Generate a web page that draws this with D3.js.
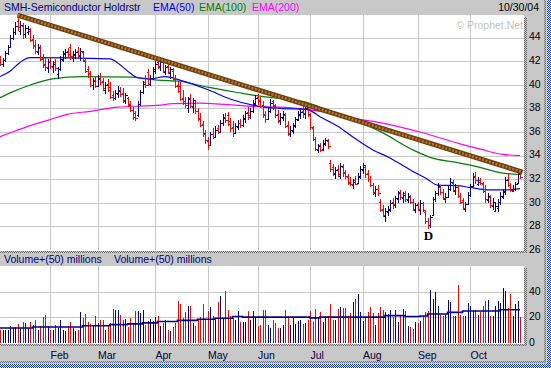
<!DOCTYPE html>
<html>
<head>
<meta charset="utf-8">
<script src="https://cdn.jsdelivr.net/npm/d3@7"></script>
<style>
body { margin: 0; background: #c8c8c8; }
svg { display: block; font-family: "Liberation Sans", Arial, sans-serif; }
</style>
</head>
<body>
<script>
// SMH daily bars, 2 Jan 2004 .. 29 Oct 2004 (one entry per trading day)
const high = [
42.4,42.3,42.9,43.4,44.2,44.8,45.3,45.9,45.4,45.2,
45.1,45.0,44.8,44.2,43.8,43.5,43.4,42.6,42.3,42.2,
42.3,42.0,42.2,41.5,42.4,42.9,43.0,43.1,43.5,42.9,
43.0,43.2,43.1,42.9,42.3,41.6,41.2,40.6,40.7,40.8,
41.0,40.6,40.2,40.5,40.2,39.5,39.6,39.9,39.8,39.7,
39.3,39.0,38.6,38.1,37.8,38.6,39.6,40.3,40.8,41.3,
40.8,41.5,42.0,42.3,42.1,42.2,41.7,41.9,41.5,41.4,
40.8,40.3,40.2,39.6,39.0,39.0,39.2,38.9,38.6,38.0,
37.6,36.9,36.2,35.6,36.0,36.3,36.5,36.6,37.0,37.5,
37.6,37.7,37.2,36.9,36.8,37.0,37.1,37.4,37.8,38.1,
38.0,38.7,39.1,39.2,39.0,38.6,37.8,38.0,38.8,38.7,
38.4,37.9,37.6,37.8,37.6,36.9,36.5,36.8,37.3,37.8,
38.0,38.2,38.3,38.4,37.6,36.5,35.6,35.0,35.1,35.3,
35.5,35.4,33.6,33.3,33.0,33.2,33.4,33.3,32.8,32.4,
32.2,32.0,32.3,32.5,33.1,33.4,33.2,32.8,32.3,31.7,
31.4,31.5,30.3,29.8,29.6,29.7,30.2,30.4,30.6,31.0,
31.1,30.9,31.0,30.8,30.7,30.3,30.0,30.1,30.2,30.1,
29.3,28.7,29.0,30.5,31.0,31.7,31.5,31.2,30.8,31.4,
32.1,31.9,31.6,31.5,30.8,30.4,30.1,30.9,31.6,32.5,
32.6,32.2,32.1,31.8,31.5,30.8,30.7,30.4,30.0,30.3,
30.9,31.2,32.2,32.4,31.7,31.5,31.8,32.8,32.8]
const low = [
41.6,41.5,41.9,42.5,43.1,43.8,44.2,44.6,44.2,43.9,
44.0,44.2,43.6,43.0,42.6,42.5,42.0,41.4,41.2,41.0,
41.3,41.0,41.2,40.5,41.2,41.9,42.2,42.3,42.1,41.9,
42.2,42.3,42.0,41.9,41.0,40.6,39.8,39.6,39.7,39.8,
40.0,39.5,39.2,39.4,38.8,38.6,38.7,38.9,39.0,38.5,
38.4,38.1,37.7,37.0,36.9,37.3,38.2,39.2,39.7,39.9,
39.9,40.4,40.9,41.3,41.2,41.0,40.8,40.9,40.5,40.3,
39.7,39.3,38.6,38.3,38.0,37.6,38.0,37.6,37.5,36.9,
36.4,35.6,35.0,34.5,34.8,35.4,35.5,35.8,35.9,36.5,
36.8,36.5,36.0,35.6,35.8,36.2,36.3,36.4,36.8,37.0,
37.1,37.6,38.2,38.3,38.0,37.2,36.8,37.0,37.6,37.9,
37.2,36.8,36.6,36.9,36.3,35.7,35.6,35.8,36.3,36.9,
37.1,37.2,37.1,37.3,36.2,35.2,34.4,34.2,34.3,34.4,
34.8,34.6,32.6,32.3,32.0,32.2,32.0,32.2,32.0,31.5,
31.4,31.2,31.5,31.6,32.0,32.4,32.1,31.8,31.3,30.7,
30.5,30.6,29.2,28.8,28.4,28.9,29.2,29.5,29.6,30.0,
30.2,30.0,30.1,30.0,29.9,29.3,29.1,29.3,29.0,29.2,
28.2,27.8,27.9,28.9,30.1,30.6,30.7,30.2,30.0,30.4,
31.0,30.9,30.7,30.4,29.9,29.4,29.2,29.8,30.5,31.3,
31.6,31.4,31.5,30.8,30.0,30.0,29.6,29.4,29.2,29.2,
29.8,30.3,30.7,31.3,30.9,30.9,31.0,31.6,32.0]
const open = [
42.2,41.8,42.1,42.7,43.2,44.0,44.5,45.4,44.6,45.0,
44.3,44.5,44.6,43.9,43.4,42.8,43.1,42.3,41.8,41.4,
42.0,41.5,41.9,40.9,41.3,42.1,42.6,42.9,43.2,42.3,
42.5,42.9,42.4,42.8,42.0,41.3,41.0,40.0,40.4,39.9,
40.6,40.3,39.6,40.1,39.8,39.1,38.9,39.2,39.6,39.3,
38.6,38.9,38.4,37.9,37.6,37.4,38.4,39.4,40.2,41.1,
40.1,40.6,41.2,41.9,41.5,42.0,41.1,41.6,41.0,41.2,
40.6,40.0,39.9,38.9,38.5,38.0,38.9,38.1,38.5,37.8,
37.2,36.7,35.9,35.2,34.9,35.8,35.6,36.3,36.0,36.8,
37.3,37.4,36.9,36.4,35.9,36.4,36.8,36.6,37.1,37.7,
37.3,37.8,38.4,39.0,38.6,38.3,37.5,37.1,37.8,38.6,
38.2,37.5,36.9,37.2,37.4,36.6,35.8,36.1,36.5,37.0,
37.4,37.8,37.5,38.1,37.4,36.3,35.4,34.5,34.9,34.6,
35.0,35.2,33.4,33.0,32.4,32.9,32.3,33.0,32.5,32.2,
31.8,31.5,31.9,31.7,32.2,32.8,33.0,32.5,32.0,31.5,
30.8,31.2,30.1,29.5,28.9,29.2,29.4,30.1,29.8,30.3,
30.9,30.4,30.8,30.2,30.5,30.1,29.4,29.9,29.4,30.0,
29.2,28.5,28.1,29.0,30.3,30.8,31.3,30.9,30.3,30.5,
31.2,31.7,31.0,31.3,30.6,30.2,29.5,29.9,30.7,31.4,
32.3,31.6,31.9,31.6,31.2,30.2,30.5,29.7,29.3,29.6,
30.1,30.5,30.9,32.0,31.5,31.0,31.2,31.7,32.6]
const close = [
41.8,42.1,42.7,43.2,44.0,44.5,45.0,44.9,45.1,44.3,
44.8,44.7,43.8,43.3,42.9,43.2,42.2,41.7,41.5,41.9,
41.6,41.8,41.4,41.3,42.2,42.7,42.8,42.6,42.4,42.6,
42.8,42.5,42.9,42.1,41.2,40.9,40.0,40.3,39.9,40.5,
40.2,39.7,40.0,39.6,39.0,38.9,39.3,39.5,39.2,38.7,
39.1,38.3,37.9,37.3,37.2,38.4,39.4,40.1,40.0,40.1,
40.6,41.3,41.8,41.6,41.9,41.2,41.5,41.1,41.3,40.5,
39.9,39.5,38.8,38.6,38.3,38.8,38.2,38.7,37.8,37.1,
36.6,35.8,35.3,34.9,35.8,35.6,36.2,36.0,36.8,37.2,
37.0,36.7,36.3,35.9,36.5,36.8,36.6,37.2,37.6,37.4,
37.8,38.5,38.9,38.7,38.2,37.4,37.1,37.8,38.5,38.3,
37.4,37.0,37.3,37.5,36.5,35.9,36.2,36.6,37.1,37.5,
37.7,37.6,38.0,37.5,36.4,35.4,34.6,34.8,34.5,35.1,
35.3,34.8,32.9,32.5,32.8,32.4,33.1,32.6,32.3,31.7,
31.6,31.8,31.6,32.3,32.9,33.2,32.4,32.0,31.5,30.9,
31.2,30.8,29.4,29.0,29.3,29.5,30.0,29.9,30.4,30.8,
30.5,30.7,30.3,30.6,30.1,29.5,29.8,29.5,30.0,29.4,
28.5,28.1,28.8,30.3,30.8,31.4,30.9,30.4,30.5,31.2,
31.8,31.1,31.3,30.6,30.1,29.6,29.9,30.7,31.4,32.2,
31.9,31.8,31.7,31.0,30.3,30.6,29.8,30.1,29.7,30.1,
30.6,31.0,31.9,31.5,31.1,31.2,31.6,32.5,32.2]
// volume, millions
const volume = [
10.4,10.4,10.4,10.4,13.5,11.7,12.5,15.1,11.4,16.6,
15.6,11.4,16.6,14.0,17.6,10.4,13.5,20.2,22.0,13.0,
10.4,9.9,14.3,12.0,17.6,9.9,9.1,13.0,16.6,11.4,
9.1,10.4,24.3,19.7,22.8,16.6,15.1,14.3,20.7,15.6,
17.9,18.2,10.4,13.0,15.6,26.4,25.4,25.4,21.6,18.2,
18.7,12.5,19.7,15.6,25.1,24.8,23.3,25.4,14.3,16.8,
18.7,16.8,20.2,21.3,13.5,15.6,18.2,10.4,9.6,12.5,
15.6,32.4,30.6,19.5,24.3,28.5,28.5,15.6,13.0,17.6,
20.2,30.6,18.7,24.6,28.0,21.3,18.2,31.6,36.3,19.5,
40.7,25.4,20.7,19.5,17.6,24.6,16.1,16.1,16.1,25.1,
18.2,24.6,20.2,13.0,14.3,25.9,25.9,14.3,11.4,18.2,
15.6,11.7,11.7,14.3,25.9,21.3,14.3,20.2,15.1,16.8,
17.6,15.1,15.6,18.2,25.1,16.1,26.7,20.2,23.8,16.1,
21.3,20.7,30.6,17.6,17.6,26.4,28.0,26.9,27.2,20.7,
23.3,31.6,34.0,38.4,23.8,16.8,20.2,23.8,27.7,23.3,
14.3,23.3,27.7,25.9,23.8,22.8,25.9,20.2,25.9,16.6,
22.0,26.4,24.6,13.0,12.2,11.2,16.1,15.6,16.8,21.3,
24.3,25.1,41.0,34.5,39.4,29.0,22.0,21.3,22.0,33.7,
31.6,21.3,21.3,45.4,21.8,21.3,21.3,31.1,29.0,24.6,
25.4,22.0,23.8,29.0,32.4,33.2,20.7,21.3,28.5,32.4,
31.1,42.8,40.7,27.2,38.4,21.3,30.6,32.4,20.2]

// moving averages at a few bar indices
const ema50Idx = [0,4,8,12,44,48,52,55,60,66,72,83,92,103,112,123,128,135,141,149,156,164,171,175,183,188,196,203,208]
const ema50Val = [40.7,41.15,41.9,42.3,42.2,41.7,41.0,40.6,40.5,40.7,40.4,39.6,38.8,38.2,38.0,37.9,37.3,36.5,35.6,34.5,33.8,32.8,32.0,31.5,31.45,31.3,31.1,31.1,31.2]
const ema100Idx = [0,5,11,21,33,53,63,72,83,95,107,116,123,128,136,144,152,165,172,183,192,200,208]
const ema100Val = [38.9,39.4,39.9,40.5,40.7,40.65,40.4,40.3,39.8,39.35,38.95,38.75,38.5,38.1,37.5,36.8,36.05,34.5,33.85,33.4,33.0,32.55,32.4]
const ema200Idx = [0,5,13,20,27,36,47,56,63,69,80,99,112,123,131,139,152,168,184,193,201,208]
const ema200Val = [35.6,36.0,36.6,37.05,37.5,37.75,38.1,38.2,38.25,38.4,38.45,38.2,38.1,37.9,37.65,37.25,36.8,36.0,35.0,34.5,34.1,34.0]
const volMaIdx = [0,13,33,44,51,57,63,71,79,86,93,97,124,128,154,162,168,171,179,185,200,208]
const volMaVal = [11.7,12.5,13.4,14.3,14.9,15.7,16.8,17.6,18.5,19.3,20.7,20.2,19.6,20.2,21.3,20.7,21.0,22.6,23.9,24.9,25.9,25.9]

// trend line drawn from the January high
const trendIdx = [7, 209]
const trendVal = [45.9, 32.6]

const monthIdx = [20, 39, 62, 83, 103, 124, 145, 167, 188]
const monthLabels = ["Feb","Mar","Apr","May","Jun","Jul","Aug","Sep","Oct"]
const priceTicks = [26,28,30,32,34,36,38,40,42,44]
const volTicks = [0,20,40]

let width = 551
let height = 368

let svg = d3.select("body").append("svg")
    .attr("width", width)
    .attr("height", height)

let defs = svg.append("defs")
let dots = defs.append("pattern").attr("id","dots")
    .attr("width",2).attr("height",2).attr("patternUnits","userSpaceOnUse")
dots.append("rect").attr("x",0).attr("y",0).attr("width",1).attr("height",1).attr("fill","#6e6e6e")
dots.append("rect").attr("x",1).attr("y",1).attr("width",1).attr("height",1).attr("fill","#6e6e6e")
let blue = defs.append("pattern").attr("id","bluedots")
    .attr("width",2).attr("height",2).attr("patternUnits","userSpaceOnUse")
blue.append("rect").attr("width",2).attr("height",2).attr("fill","#ffffff")
blue.append("rect").attr("x",0).attr("y",0).attr("width",1).attr("height",1).attr("fill","#1030e0")
blue.append("rect").attr("x",1).attr("y",1).attr("width",1).attr("height",1).attr("fill","#1030e0")

svg.append("rect").attr("width", width).attr("height", height).attr("fill", "#c8c8c8")

let plot = {left: 0, right: 524, top: 15, bottom: 250}
let vplot = {top: 266, bottom: 343}

let x = d3.scaleLinear().domain([0, 209.6]).range([plot.left, plot.right])
let y = d3.scaleLinear().domain([26, 46]).range([plot.bottom, 14])
let yv = d3.scaleLinear().domain([0, 60]).range([vplot.bottom, vplot.top])
let px = i => Math.round(x(i)) + 0.5

// panels
svg.append("rect").attr("x", plot.left).attr("y", plot.top)
    .attr("width", plot.right - plot.left).attr("height", plot.bottom - plot.top + 1)
    .attr("fill", "#fff")
svg.append("rect").attr("x", plot.left).attr("y", vplot.top)
    .attr("width", plot.right - plot.left).attr("height", vplot.bottom - vplot.top + 1)
    .attr("fill", "#fff")

// panel shadows (dotted)
svg.append("rect").attr("x", 524).attr("y", 17).attr("width", 3).attr("height", 236).attr("fill", "url(#dots)")
svg.append("rect").attr("x", 0).attr("y", 251).attr("width", 527).attr("height", 2).attr("fill", "url(#dots)")
svg.append("rect").attr("x", 524).attr("y", 268).attr("width", 3).attr("height", 78).attr("fill", "url(#dots)")
svg.append("rect").attr("x", 0).attr("y", 344).attr("width", 527).attr("height", 2).attr("fill", "url(#dots)")
svg.append("rect").attr("x", 544).attr("y", 0).attr("width", 2).attr("height", 363).attr("fill", "url(#dots)")
svg.append("rect").attr("x", 0).attr("y", 361).attr("width", 546).attr("height", 2).attr("fill", "url(#dots)")
svg.append("rect").attr("x", 547).attr("y", 0).attr("width", 4).attr("height", 368).attr("fill", "url(#bluedots)")
svg.append("rect").attr("x", 0).attr("y", 364).attr("width", 551).attr("height", 4).attr("fill", "url(#bluedots)")

// grid
let grid = svg.append("g").attr("stroke", "#c8c8c8").attr("stroke-width", 1).attr("shape-rendering", "crispEdges")
grid.selectAll(".vg").data(monthIdx).enter().append("line")
    .attr("x1", d => px(d)).attr("x2", d => px(d))
    .attr("y1", plot.top).attr("y2", plot.bottom)
grid.selectAll(".vg2").data(monthIdx).enter().append("line")
    .attr("x1", d => px(d)).attr("x2", d => px(d))
    .attr("y1", vplot.top).attr("y2", vplot.bottom)
grid.selectAll(".hg").data(priceTicks.slice(1)).enter().append("line")
    .attr("x1", plot.left).attr("x2", plot.right)
    .attr("y1", d => Math.round(y(d)) + 0.5).attr("y2", d => Math.round(y(d)) + 0.5)
grid.selectAll(".hg2").data(volTicks.slice(1)).enter().append("line")
    .attr("x1", plot.left).attr("x2", plot.right)
    .attr("y1", d => Math.round(yv(d)) + 0.5).attr("y2", d => Math.round(yv(d)) + 0.5)

// watermark
svg.append("text").attr("x", 523).attr("y", 29).attr("text-anchor", "end")
    .attr("font-size", "10.5px").attr("fill", "#c4c4c4").text("\u00a9 Prophet.Net")

// moving averages
let maLine = d3.line().x(d => x(d[0])).y(d => y(d[1])).curve(d3.curveMonotoneX)
let mas = [
    {idx: ema200Idx, val: ema200Val, color: "#ff00ff"},
    {idx: ema100Idx, val: ema100Val, color: "#008000"},
    {idx: ema50Idx, val: ema50Val, color: "#0000ff"}
]
svg.selectAll(".ma").data(mas).enter().append("path")
    .attr("class", "ma")
    .attr("fill", "none")
    .attr("stroke", d => d.color)
    .attr("stroke-width", 1.2)
    .attr("d", d => maLine(d.idx.map((v, k) => [v, d.val[k]])))

let bars = d3.range(close.length).map(i => ({i: i, h: high[i], l: low[i], o: open[i], c: close[i], v: volume[i]}))
let colour = d => d.c < d.o ? "#ff0000" : "#000080"

// price bars
svg.append("g").attr("shape-rendering", "crispEdges").selectAll("path")
    .data(bars).enter().append("path")
    .attr("fill", "none")
    .attr("stroke", colour)
    .attr("stroke-width", 1)
    .attr("d", function(d) {
        let cx = px(d.i)
        let yo = Math.round(y(d.o)) + 0.5, yc = Math.round(y(d.c)) + 0.5
        return "M" + cx + "," + y(d.h) + "V" + y(d.l) +
            "M" + (cx - 2) + "," + yo + "H" + cx +
            "M" + cx + "," + yc + "H" + (cx + 2)
    })

// trend line
let tl = trendIdx.map((v, k) => [x(v), y(trendVal[k])])
svg.append("line").attr("x1", tl[0][0]).attr("y1", tl[0][1]).attr("x2", tl[1][0]).attr("y2", tl[1][1])
    .attr("stroke", "#6b3f10").attr("stroke-width", 5)
svg.append("line").attr("x1", tl[0][0]).attr("y1", tl[0][1]).attr("x2", tl[1][0]).attr("y2", tl[1][1])
    .attr("stroke", "#b8752e").attr("stroke-width", 2.5).attr("stroke-dasharray", "2,1.5")

// "D" marker under the September low
let lowI = d3.minIndex(low)
svg.append("text").attr("x", x(lowI) + 1).attr("y", y(low[lowI]) + 11)
    .attr("text-anchor", "middle")
    .attr("font-family", "'Liberation Serif', 'Times New Roman', serif")
    .attr("font-weight", "bold").attr("font-size", "13px")
    .text("D")

// volume bars
svg.append("g").attr("shape-rendering", "crispEdges").selectAll("line")
    .data(bars).enter().append("line")
    .attr("x1", d => px(d.i)).attr("x2", d => px(d.i))
    .attr("y1", yv(0)).attr("y2", d => yv(d.v))
    .attr("stroke", colour).attr("stroke-width", 1)

let vLine = d3.line().x(d => x(d[0])).y(d => yv(d[1])).curve(d3.curveStepAfter)
svg.append("path")
    .attr("fill", "none").attr("stroke", "#000080").attr("stroke-width", 1.6)
    .attr("d", vLine(volMaIdx.map((v, k) => [v, volMaVal[k]])))

// axes
let yAxis = d3.axisRight(y).tickValues(priceTicks).tickSize(0).tickPadding(5)
let gy = svg.append("g").attr("transform", "translate(524,-1)").call(yAxis)
let vAxis = d3.axisRight(yv).tickValues(volTicks).tickSize(0).tickPadding(5)
let gv = svg.append("g").attr("transform", "translate(524,-1)").call(vAxis)
let xAxis = d3.axisBottom(x).tickValues(monthIdx).tickSize(0).tickPadding(0)
    .tickFormat((d, k) => monthLabels[k])
let gx = svg.append("g").attr("transform", "translate(0,352)").call(xAxis)
gx.selectAll("text").attr("text-anchor", "start").attr("fill", "#000040")
svg.selectAll(".domain").remove()
svg.selectAll(".tick text").attr("font-size", "10.5px").attr("font-family", "'Liberation Sans', Arial, sans-serif")
gy.selectAll("text").attr("fill", "#000")
gv.selectAll("text").attr("fill", "#000")

// header texts
svg.append("text").attr("x", 4).attr("y", 11).attr("font-size", "10.5px").attr("fill", "#000080")
    .text("SMH-Semiconductor Holdrstr")
let legend = [
    {t: "EMA(50)", c: "#0000ff", x: 153},
    {t: "EMA(100)", c: "#008000", x: 199},
    {t: "EMA(200)", c: "#ff00ff", x: 252}
]
svg.selectAll(".leg").data(legend).enter().append("text")
    .attr("x", d => d.x).attr("y", 11).attr("font-size", "10.5px")
    .attr("fill", d => d.c).text(d => d.t)
svg.append("text").attr("x", 539).attr("y", 11).attr("text-anchor", "end")
    .attr("font-size", "10.5px").attr("fill", "#000").text("10/30/04")

svg.selectAll(".vh").data([4, 114]).enter().append("text")
    .attr("x", d => d).attr("y", 263).attr("font-size", "10.5px").attr("fill", "#000080")
    .text("Volume+(50) millions")
</script>
</body>
</html>
